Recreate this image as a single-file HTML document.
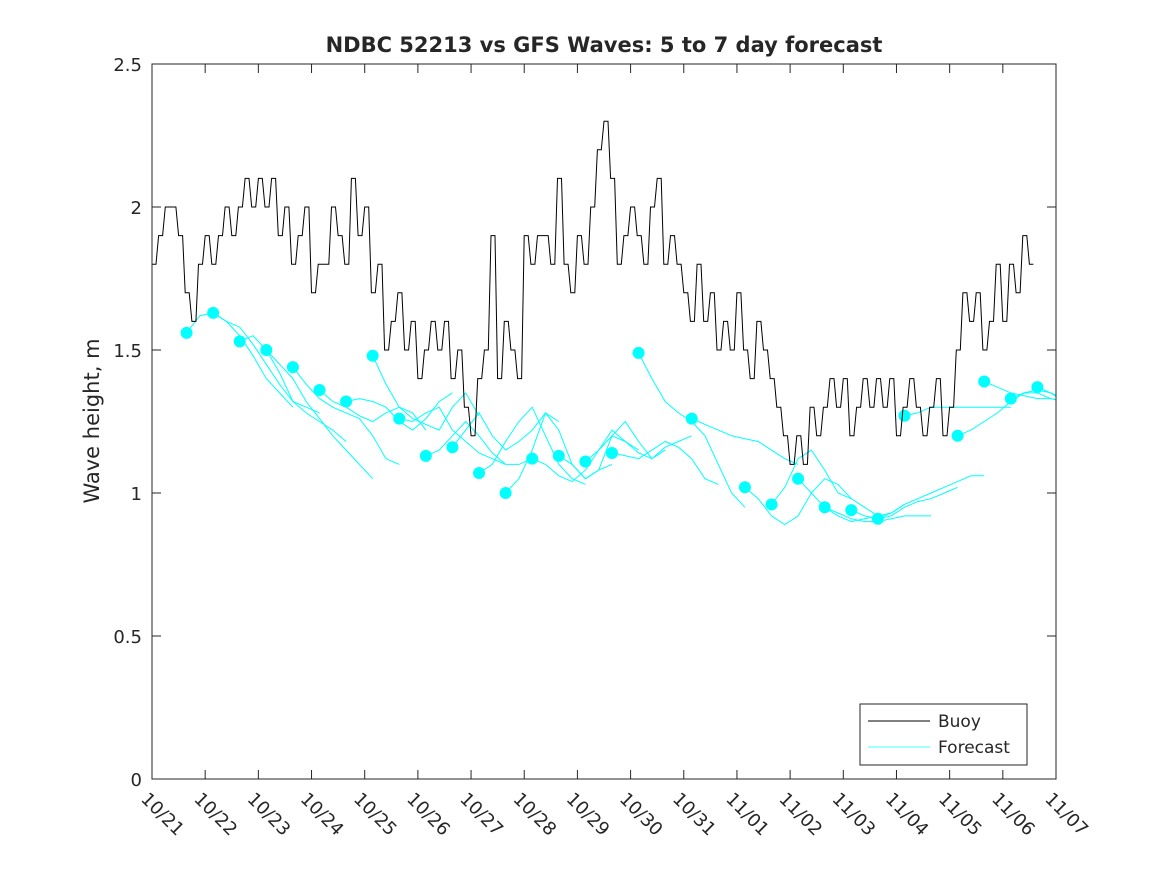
<!DOCTYPE html>
<html><head><meta charset="utf-8"><style>
body{margin:0;background:#fff;}
svg text{font-family:"DejaVu Sans","Liberation Sans",sans-serif;fill:#262626;}
</style></head><body>
<svg id="chart" width="1167" height="875">
<rect width="1167" height="875" fill="#fff"/>
<text x="604" y="52" text-anchor="middle" font-size="21" font-weight="bold" fill="#000">NDBC 52213 vs GFS Waves: 5 to 7 day forecast</text>
<defs><clipPath id="clip"><rect x="152" y="64" width="904" height="715"/></clipPath></defs>
<g id="series" clip-path="url(#clip)"></g>
<rect x="152" y="64" width="904" height="715" fill="none" stroke="#262626" stroke-width="1"/>
<g id="axes"></g>
<text transform="translate(99,421) rotate(-90)" text-anchor="middle" font-size="21">Wave height, m</text>
<g>
<rect x="860" y="704" width="167" height="61" fill="#fff" stroke="#262626"/>
<line x1="868" y1="721" x2="930" y2="721" stroke="#000"/>
<text x="938" y="727" font-size="17">Buoy</text>
<line x1="868" y1="747" x2="930" y2="747" stroke="#00ffff" stroke-width="0.8"/>
<text x="938" y="753" font-size="17">Forecast</text>
</g>
</svg>
<script>
const xTickLabels=["10/21","10/22","10/23","10/24","10/25","10/26","10/27","10/28","10/29","10/30","10/31","11/01","11/02","11/03","11/04","11/05","11/06","11/07"];
const yTicks=[0,0.5,1,1.5,2,2.5];
const yTickLabels=["0","0.5","1","1.5","2","2.5"];
// buoy, 3-hourly from 10/21 00:00
const buoy=[1.8,1.9,2.0,2.0,1.9,1.7,1.6,1.8,
1.9,1.8,1.9,2.0,1.9,2.0,2.1,2.0,
2.1,2.0,2.1,1.9,2.0,1.8,1.9,2.0,
1.7,1.8,1.8,2.0,1.9,1.8,2.1,1.9,
2.0,1.7,1.8,1.5,1.6,1.7,1.5,1.6,
1.4,1.5,1.6,1.5,1.6,1.4,1.5,1.3,
1.2,1.4,1.5,1.9,1.4,1.6,1.5,1.4,
1.9,1.8,1.9,1.9,1.8,2.1,1.8,1.7,
1.9,1.8,2.0,2.2,2.3,2.1,1.8,1.9,
2.0,1.9,1.8,2.0,2.1,1.8,1.9,1.8,
1.7,1.6,1.8,1.6,1.7,1.5,1.6,1.5,
1.7,1.5,1.4,1.6,1.5,1.4,1.3,1.2,
1.1,1.2,1.1,1.3,1.2,1.3,1.4,1.3,
1.4,1.2,1.3,1.4,1.3,1.4,1.3,1.4,
1.2,1.3,1.4,1.3,1.2,1.3,1.4,1.2,
1.3,1.5,1.7,1.6,1.7,1.5,1.6,1.8,
1.6,1.8,1.7,1.9,1.8];
const buoyStepDays=0.125;
// forecasts: start day, values every 0.25 day
const fcStart=[0.65,1.15,1.65,2.15,2.65,3.15,3.65,4.15,4.65,5.15,5.65,6.15,6.65,7.15,7.65,8.15,8.65,9.15,10.15,11.15,11.65,12.15,12.65,13.15,13.65,14.15,15.15,15.65,16.15,16.65];
const fcValues=[
[1.56,1.62,1.63,1.60,1.55,1.48,1.40,1.35,1.30],
[1.63,1.60,1.58,1.52,1.45,1.38,1.32,1.30,1.28],
[1.53,1.55,1.50,1.42,1.32,1.28,1.25,1.22,1.18],
[1.50,1.45,1.40,1.32,1.26,1.20,1.15,1.10,1.05],
[1.44,1.38,1.33,1.30,1.28,1.26,1.20,1.12,1.10],
[1.36,1.32,1.30,1.27,1.25,1.28,1.30,1.28,1.22],
[1.32,1.33,1.32,1.30,1.25,1.22,1.26,1.32,1.35],
[1.48,1.38,1.30,1.26,1.24,1.22,1.30,1.35,1.27],
[1.26,1.25,1.28,1.30,1.22,1.18,1.14,1.12,1.10],
[1.13,1.15,1.20,1.25,1.20,1.14,1.10,1.10,1.12],
[1.16,1.22,1.28,1.20,1.15,1.18,1.22,1.28,1.25],
[1.07,1.10,1.18,1.25,1.30,1.20,1.10,1.05,1.03],
[1.00,1.05,1.15,1.28,1.22,1.10,1.05,1.08,1.10],
[1.12,1.10,1.06,1.04,1.08,1.15,1.20,1.18,1.15],
[1.13,1.10,1.05,1.08,1.20,1.25,1.18,1.12,1.15],
[1.11,1.15,1.22,1.18,1.14,1.12,1.16,1.18,1.20],
[1.14,1.13,1.12,1.15,1.18,1.16,1.12,1.05,1.03],
[1.49,1.40,1.32,1.28,1.25,1.20,1.10,1.00,0.95],
[1.26,1.24,1.22,1.20,1.19,1.18,1.15,1.12,1.10],
[1.02,0.98,0.92,0.89,0.92,1.00,1.05,1.03,0.98],
[0.96,1.02,1.12,1.15,1.08,1.00,0.98,0.95,0.92],
[1.05,1.00,0.95,0.92,0.90,0.91,0.92,0.93,0.96],
[0.95,0.93,0.91,0.90,0.90,0.91,0.92,0.92,0.92],
[0.94,0.92,0.91,0.92,0.95,0.97,0.98,1.00,1.02],
[0.91,0.93,0.96,0.98,1.00,1.02,1.04,1.06,1.06],
[1.27,1.28,1.30,1.30,1.30,1.30,1.30,1.30,1.30],
[1.20,1.22,1.25,1.28,1.32,1.35,1.36,1.35,1.33],
[1.39,1.37,1.35,1.34,1.33,1.33,1.32,1.30,1.29],
[1.33,1.35,1.35,1.33,1.32,1.30,1.29,1.28,1.27],
[1.37,1.35,1.32,1.29,1.27,1.26,1.25,1.24,1.23]];
const fcStepDays=0.25;

const NS="http://www.w3.org/2000/svg";
const X0=152,X1=1056,Y0=779,Y1=64,DAYS=17,YMAX=2.5;
const xs=d=>X0+(X1-X0)*d/DAYS;
const ys=v=>Y0-(Y0-Y1)*v/YMAX;
function mk(tag,attrs,parent){const e=document.createElementNS(NS,tag);for(const k in attrs)e.setAttribute(k,attrs[k]);parent.appendChild(e);return e;}
const axes=document.getElementById('axes'),series=document.getElementById('series');
xTickLabels.forEach((lab,i)=>{
  const x=xs(i);
  const t1=mk('line',{x1:x,y1:Y0,x2:x,y2:Y0-9,stroke:'#262626'},axes);
  
  
  const t2=mk('line',{x1:x,y1:Y1,x2:x,y2:Y1+9,stroke:'#262626'},axes);
  
  
  const tx=mk('text',{x:x-12,y:800,'font-size':18,transform:`rotate(45 ${x-12} 800)`},axes);
  tx.textContent=lab;
  
  
});
yTicks.forEach((v,i)=>{
  const y=ys(v);
  const a=mk('line',{x1:X0,y1:y,x2:X0+9,y2:y,stroke:'#262626'},axes);
  
  
  const b=mk('line',{x1:X1,y1:y,x2:X1-9,y2:y,stroke:'#262626'},axes);
  
  
  const tx=mk('text',{x:X0-10,y:y+7,'font-size':18,'text-anchor':'end'},axes);
  tx.textContent=yTickLabels[i];
  
  
});
fcStart.forEach((s,i)=>{
  const pts=fcValues[i].map((v,j)=>xs(s+j*fcStepDays).toFixed(1)+','+ys(v).toFixed(1)).join(' ');
  const pl=mk('polyline',{points:pts,fill:'none',stroke:'#00ffff','stroke-width':1},series);
  
  
});
fcStart.forEach((s,i)=>{
  const c=mk('circle',{cx:xs(s),cy:ys(fcValues[i][0]),r:6,fill:'#00ffff'},series);
  
  
});
// buoy: jagged line with short plateaus
let d='';
buoy.forEach((v,i)=>{const x0=xs(i*buoyStepDays),x1=xs((i+0.6)*buoyStepDays),y=ys(v);d+=(i===0?'M':'L')+x0.toFixed(1)+','+y.toFixed(1)+'L'+x1.toFixed(1)+','+y.toFixed(1);});
const bp=mk('path',{d:d,fill:'none',stroke:'#000','stroke-width':1},series);


</script>
</body></html>
